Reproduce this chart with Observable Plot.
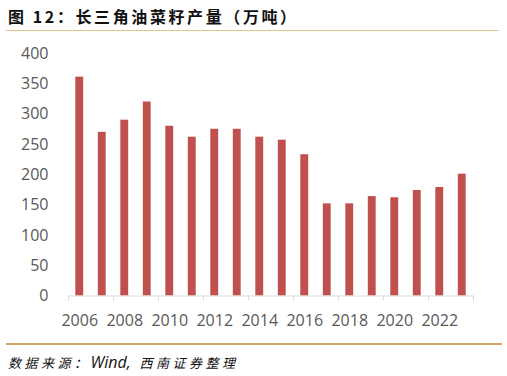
<!DOCTYPE html>
<html><head><meta charset="utf-8">
<script src="https://cdn.jsdelivr.net/npm/d3@7"></script>
<script src="https://cdn.jsdelivr.net/npm/@observablehq/plot@0.6"></script>
<style>
body{margin:0;background:#fff;}
#wrap{position:relative;width:507px;height:376px;overflow:hidden;}
#title{position:absolute;left:8px;top:4px;font:bold 16px "Noto Sans CJK SC";color:#111;white-space:nowrap;letter-spacing:2.6px;}
#topline{position:absolute;left:6px;width:493px;top:30px;height:1px;background:#E3C290;}
#botline{position:absolute;left:6px;width:496px;top:343px;height:2px;background:#CFA569;}
#cap{position:absolute;left:8px;top:351px;font:italic 13px "Noto Sans CJK SC";color:#111;white-space:nowrap;}
#cap .c{letter-spacing:3.5px;}
#cap .w{font-family:"Open Sans";font-size:16px;}
#chart{position:absolute;left:0;top:0;}
</style></head>
<body><div id="wrap">
<div id="title">图 12：长三角油菜籽产量（万吨）</div>
<div id="topline"></div>
<div id="chart"></div>
<div id="botline"></div>
<div id="cap"><span class="c">数据来源：</span><span class="w">Wind,</span>&nbsp;&nbsp;&nbsp;<span class="c">西南证券整理</span></div>
</div>
<script>
const years = [2006,2007,2008,2009,2010,2011,2012,2013,2014,2015,2016,2017,2018,2019,2020,2021,2022,2023];
const production = [361,270,290,320,280,262,275,275,262,257,233,152,152,164,162,174,179,201];
const yTicks = [0,50,100,150,200,250,300,350,400];
const labelYears = [2006,2008,2010,2012,2014,2016,2018,2020,2022];

const data = years.map((y,i)=>({year:y, value:production[i]}));
const step = 405/18;
const chart = Plot.plot({
  width:507, height:340,
  marginLeft:68, marginRight:34, marginTop:53, marginBottom:44.5,
  style:{fontFamily:"Open Sans", fontSize:"16px", color:"#595959", background:"transparent"},
  x:{type:"band", domain:years, paddingInner:0.65, paddingOuter:0.325, round:false, label:null},
  y:{domain:[0,400], label:null},
  marks:[
    Plot.barY(data,{x:"year", y:"value", fill:"#C0504D"}),
    Plot.ruleY([0],{stroke:"#D9D9D9", strokeWidth:1}),
    Plot.axisY(yTicks,{tickSize:0, tickPadding:20, fontSize:16, fill:"#595959", label:null}),
    Plot.axisX(labelYears,{tickSize:0, tickPadding:19, fontSize:16, fill:"#595959", tickFormat:d=>String(d), label:null}),
    Plot.axisX(labelYears,{tickSize:5, tickFormat:()=>"", dx:-step/2, stroke:"#D9D9D9", label:null}),
    Plot.axisX([2023],{tickSize:5, tickFormat:()=>"", dx:step/2, stroke:"#D9D9D9", label:null})
  ]
});
document.getElementById("chart").appendChild(chart);
</script>
</body></html>
